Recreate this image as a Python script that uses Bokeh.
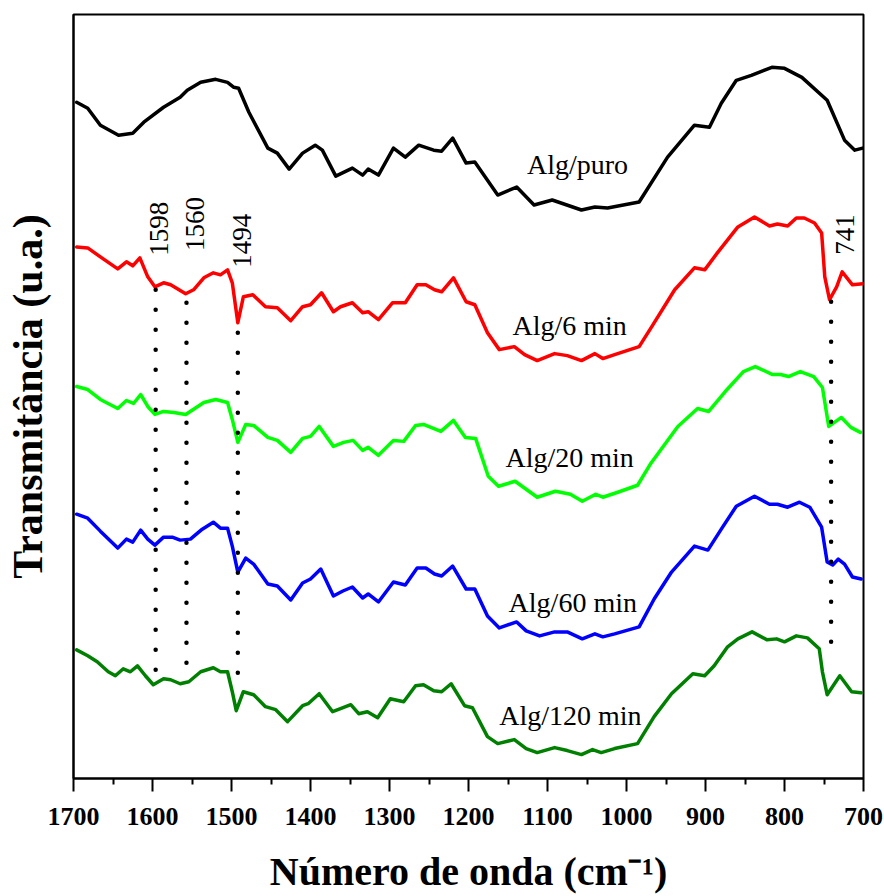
import numpy as np
from bokeh.plotting import figure
from bokeh.models import Range1d, FixedTicker
from bokeh.core.properties import value
from bokeh.embed import file_html
from bokeh.resources import INLINE

# ---------------- data ----------------
# wavenumbers (cm-1) and transmittance (arbitrary units, offset spectra)
puro_x = [1696, 1682, 1666, 1643, 1625, 1611, 1586, 1565, 1556, 1539, 1520, 1505, 1497, 1491, 1478,
          1454, 1442, 1427, 1410, 1394, 1385, 1368, 1347, 1334, 1327, 1314, 1295, 1280, 1263, 1244,
          1234, 1220, 1203, 1192, 1163, 1139, 1117, 1094, 1057, 1040, 1024, 984, 948, 914, 895,
          880, 861, 842, 816, 800, 778, 746, 724, 711, 701]
puro_y = [678, 672, 655, 645, 647, 658, 673, 683, 690, 698, 701, 698, 693, 692, 668,
          632, 627, 611, 627, 635, 630, 604, 612, 605, 611, 605, 632, 623, 635, 630,
          629, 642, 617, 618, 585, 593, 575, 580, 570, 573, 572, 578, 623, 655, 653,
          677, 700, 705, 713, 712, 703, 680, 640, 630, 632]

m6_x = [1696, 1682, 1666, 1644, 1633, 1625, 1616, 1606, 1597, 1586, 1577, 1558, 1548, 1535, 1523,
        1514, 1505, 1499, 1492, 1485, 1473, 1457, 1442, 1425, 1410, 1400, 1386, 1371, 1362, 1347,
        1334, 1327, 1314, 1296, 1280, 1265, 1254, 1243, 1234, 1219, 1203, 1192, 1176, 1161, 1142,
        1129, 1113, 1091, 1075, 1057, 1040, 1030, 1015, 984, 968, 939, 914, 901, 885, 859,
        838, 819, 809, 796, 785, 775, 762, 753, 749, 743, 734, 727, 714, 701]
m6_y = [533, 532, 523, 511, 518, 514, 522, 503, 493, 497, 495, 486, 490, 502, 507,
        505, 510, 497, 457, 483, 485, 473, 472, 459, 473, 475, 487, 468, 473, 477,
        467, 468, 460, 477, 477, 495, 495, 490, 488, 502, 478, 475, 447, 430, 433,
        425, 419, 426, 424, 419, 426, 421, 425, 433, 453, 490, 512, 510, 527, 553,
        563, 554, 556, 554, 562, 562, 557, 547, 503, 480, 493, 508, 495, 496]

m20_x = [1696, 1682, 1666, 1644, 1633, 1624, 1615, 1606, 1597, 1586, 1573, 1558, 1535, 1520, 1505,
         1499, 1492, 1482, 1472, 1454, 1442, 1425, 1410, 1400, 1389, 1371, 1358, 1346, 1334, 1327,
         1314, 1295, 1282, 1267, 1257, 1235, 1219, 1204, 1191, 1175, 1162, 1141, 1113, 1090, 1071,
         1056, 1039, 1030, 1011, 986, 970, 935, 910, 896, 875, 852, 837, 815, 805, 795,
         780, 763, 752, 744, 728, 716, 704]
m20_y = [393, 390, 380, 371, 379, 376, 385, 373, 365, 368, 367, 365, 377, 380, 377,
         360, 337, 355, 354, 342, 339, 327, 341, 343, 353, 333, 337, 339, 329, 332,
         324, 339, 338, 354, 355, 348, 359, 342, 341, 303, 293, 298, 282, 288, 285,
         278, 285, 282, 287, 294, 315, 353, 371, 368, 388, 408, 413, 405, 405, 403,
         408, 403, 392, 353, 362, 352, 347]

m60_x = [1696, 1682, 1666, 1644, 1633, 1625, 1615, 1606, 1597, 1586, 1575, 1565, 1552, 1537, 1523,
         1514, 1505, 1499, 1492, 1482, 1472, 1454, 1442, 1425, 1410, 1400, 1387, 1371, 1359, 1347,
         1334, 1327, 1314, 1295, 1280, 1265, 1254, 1243, 1234, 1220, 1203, 1192, 1176, 1161, 1139,
         1127, 1110, 1091, 1075, 1056, 1040, 1030, 1015, 984, 965, 943, 914, 897, 880, 861,
         838, 819, 809, 796, 781, 768, 753, 746, 739, 732, 724, 714, 703]
m60_y = [265, 261, 248, 231, 240, 237, 249, 240, 234, 242, 242, 239, 240, 250, 257,
         251, 251, 233, 207, 221, 215, 195, 193, 179, 196, 200, 210, 183, 188, 192,
         181, 185, 177, 197, 194, 211, 211, 205, 203, 213, 190, 190, 163, 151, 157,
         148, 143, 147, 147, 140, 145, 142, 145, 152, 180, 207, 233, 229, 250, 273,
         283, 275, 275, 272, 277, 272, 252, 217, 214, 220, 215, 202, 200]

m120_x = [1696, 1682, 1670, 1656, 1647, 1637, 1628, 1619, 1609, 1599, 1586, 1577, 1565, 1554, 1539,
          1523, 1514, 1505, 1499, 1494, 1485, 1472, 1457, 1444, 1429, 1410, 1403, 1389, 1372, 1362,
          1349, 1339, 1328, 1315, 1299, 1282, 1267, 1257, 1244, 1234, 1222, 1205, 1195, 1176, 1163,
          1142, 1127, 1113, 1091, 1075, 1057, 1043, 1032, 1015, 986, 965, 943, 916, 901, 889,
          872, 859, 841, 822, 810, 800, 785, 771, 756, 752, 746, 730, 715, 703]
m120_y = [129, 123, 117, 107, 103, 110, 107, 113, 103, 94, 100, 99, 95, 97, 107,
          111, 107, 107, 87, 68, 87, 84, 72, 69, 57, 73, 75, 85, 67, 70,
          74, 65, 67, 61, 80, 77, 93, 94, 88, 87, 95, 73, 71, 42, 35,
          39, 30, 26, 31, 28, 24, 29, 26, 30, 35, 62, 85, 105, 103, 113,
          132, 140, 147, 139, 140, 137, 143, 141, 130, 107, 84, 103, 87, 86]

series_names = ["Alg/puro", "Alg/6 min", "Alg/20 min", "Alg/60 min", "Alg/120 min"]
series_colors = ["black", "#ff0000", "#00ff00", "#0000ff", "#008000"]

x_ticks = [1700, 1600, 1500, 1400, 1300, 1200, 1100, 1000, 900, 800, 700]
x_minor = [1650, 1550, 1450, 1350, 1250, 1150, 1050, 950, 850, 750]

peak_labels = ["1598", "1560", "1494", "741"]
peak_pos = [1596, 1557, 1492, 741]
peak_top = [490, 477, 447, 478]
peak_bottom = [107, 112, 102, 128]

# ---------------- figure ----------------
SERIF = "Liberation Serif"

p = figure(width=884, height=896, output_backend="svg", toolbar_location=None,
           x_range=Range1d(1700, 700), y_range=Range1d(0, 766),
           min_border_left=73, min_border_right=21, min_border_top=14, min_border_bottom=116)
p.grid.visible = False
p.outline_line_color = "black"
p.outline_line_width = 2
p.background_fill_color = "white"
p.border_fill_color = "white"

xs = [puro_x, m6_x, m20_x, m60_x, m120_x]
ys = [puro_y, m6_y, m20_y, m60_y, m120_y]
for x, y, c in zip(xs, ys, series_colors):
    p.line(x, y, line_color=c, line_width=3.5, line_join="round", line_cap="round")

# dotted markers
p.segment(x0=peak_pos, y0=peak_top, x1=peak_pos, y1=peak_bottom,
          line_color="black", line_width=4.5, line_dash="0 20", line_cap="round")

# peak labels (rotated)
lab_x = [1592, 1546, 1487, 723]
lab_y = [524, 529, 512, 525]
p.text(x=lab_x, y=lab_y, text=peak_labels, angle=np.pi / 2,
       text_align="left", text_baseline="middle",
       text_font=value(SERIF), text_font_size="27px", text_color="black")

# series labels
name_x = [1062, 1072, 1072, 1068, 1071]
name_y = [616, 454, 322, 176, 63]
p.text(x=name_x, y=name_y, text=series_names,
       text_align="center", text_baseline="alphabetic",
       text_font=value(SERIF), text_font_size="28px", text_color="black")

# x axis
xa = p.xaxis[0]
xa.ticker = FixedTicker(ticks=x_ticks, minor_ticks=x_minor)
xa.axis_line_width = 2
xa.major_tick_line_width = 2
xa.minor_tick_line_width = 2
xa.major_tick_in = 0
xa.major_tick_out = 13
xa.minor_tick_in = 0
xa.minor_tick_out = 6
xa.major_label_text_font = SERIF
xa.major_label_text_font_style = "bold"
xa.major_label_text_font_size = "26px"
xa.major_label_text_color = "black"
xa.major_label_standoff = 16
xa.axis_label = "Número de onda (cm⁻¹)"
xa.axis_label_text_font = SERIF
xa.axis_label_text_font_style = "bold"
xa.axis_label_text_font_size = "40px"
xa.axis_label_text_color = "black"
xa.axis_label_standoff = 21

# y axis
ya = p.yaxis[0]
ya.ticker = FixedTicker(ticks=[])
ya.axis_line_width = 2
ya.major_tick_in = 0
ya.major_tick_out = 0
ya.minor_tick_in = 0
ya.minor_tick_out = 0
ya.major_label_text_font_size = "0px"
ya.axis_label = "Transmitância (u.a.)"
ya.axis_label_text_font = SERIF
ya.axis_label_text_font_style = "bold"
ya.axis_label_text_font_size = "42px"
ya.axis_label_text_color = "black"
ya.axis_label_standoff = 23

open("out.html", "w").write(file_html(p, INLINE))
